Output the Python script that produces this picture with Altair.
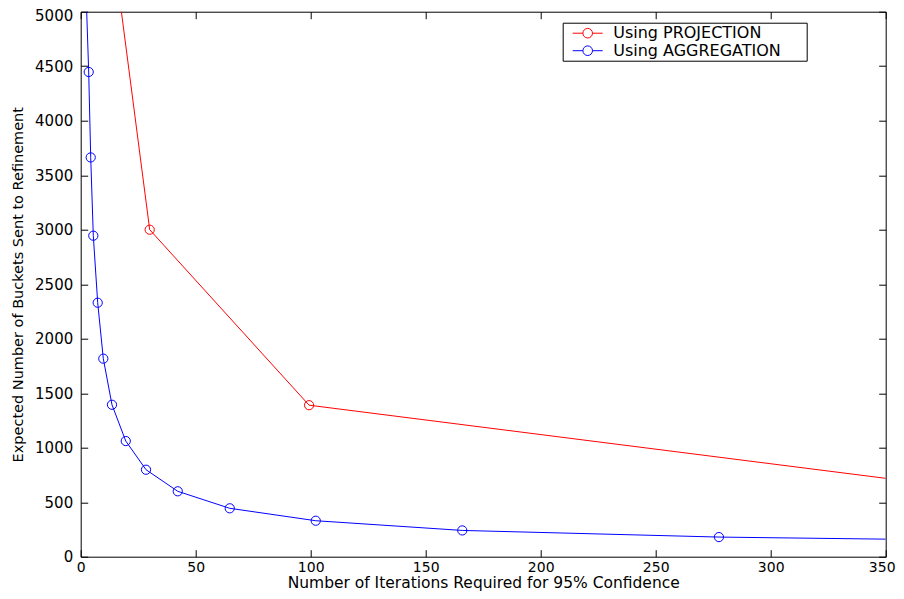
import altair as alt
import pandas as pd

series_names = ["Using PROJECTION", "Using AGGREGATION"]
series_colors = ["#ff0000", "#0000ff"]

# Using PROJECTION (first and last points run past the plot frame)
proj_x = [10, 30, 99.3, 350]
proj_y = [6250, 3000, 1390, 719]
proj_marker = [False, True, True, False]

# Using AGGREGATION
agg_x = [2.0, 3.48, 4.35, 5.48, 7.39, 9.83, 13.6, 19.6, 28.4, 42.2, 64.8, 102.2, 165.9, 277.5, 350]
agg_y = [5380, 4447, 3663, 2945, 2330, 1817, 1394, 1061, 798, 600, 444, 330, 241, 180, 161]
agg_marker = [False, True, True, True, True, True, True, True, True, True, True, True, True, True, False]

x_ticks = [0, 50, 100, 150, 200, 250, 300, 350]
y_ticks = [0, 500, 1000, 1500, 2000, 2500, 3000, 3500, 4000, 4500, 5000]

rows = []
for name, xs, ys, ms in [(series_names[0], proj_x, proj_y, proj_marker),
                         (series_names[1], agg_x, agg_y, agg_marker)]:
    for i, (xv, yv, mv) in enumerate(zip(xs, ys, ms)):
        rows.append({"series": name, "x": xv, "y": yv, "marker": mv, "order": i})
df = pd.DataFrame(rows)

W, H = 805, 545
FONT = "DejaVu Sans"
TICK = 7

xscale = alt.Scale(domain=[0, 350], nice=False, zero=False)
yscale = alt.Scale(domain=[0, 5000], nice=False, zero=False)
cscale = alt.Scale(domain=series_names, range=series_colors)

# line with an open circle in the middle (unit = 8 px for symbolSize 256)
legend_symbol = ("M-1.875,0L-0.6,0M0.6,0L1.875,0"
                 "M0.6,0A0.6,0.6 0 1 1 -0.6,0A0.6,0.6 0 1 1 0.6,0")

legend = alt.Legend(
    title=None, orient="none", legendX=482, legendY=11,
    strokeColor="black", fillColor="white", padding=2, rowPadding=0.5,
    symbolType=legend_symbol, symbolSize=256, symbolStrokeWidth=1,
    symbolFillColor="transparent", symbolOffset=14.5, labelOffset=17,
    labelFont=FONT, labelFontSize=16, labelColor="black", labelLimit=400,
    # trailing blank room inside the frame (zero-width char keeps it from being trimmed)
    labelExpr="datum.label + '\u00a0\u00a0\u00a0\u00a0\u2009\u200b'",
)


def tick_axis(orient, offset, values):
    return alt.Axis(orient=orient, offset=offset, values=values, labels=False,
                    tickSize=TICK, tickColor="black", tickWidth=1, domain=False,
                    grid=False, title=None)


lines = alt.Chart(df).mark_line(strokeWidth=1, clip=True).encode(
    x=alt.X("x:Q", scale=xscale, axis=alt.Axis(
        orient="bottom", values=x_ticks, format="d", tickSize=0, domain=False, grid=False,
        labelPadding=4, labelFont=FONT, labelFontSize=14, labelColor="black",
        labelFlush=False, labelOverlap=False,
        labelOffset={"condition": {"test": "datum.value == 350", "value": -4}, "value": 0},
        title="Number of Iterations Required for 95% Confidence",
        titleFont=FONT, titleFontSize=15.5, titleFontWeight="normal",
        titleColor="black", titleBaseline="alphabetic", titleY=30.8)),
    y=alt.Y("y:Q", scale=yscale, axis=alt.Axis(
        orient="left", values=y_ticks, format="d", tickSize=0, domain=False, grid=False,
        labelPadding=8, labelFont=FONT, labelFontSize=15, labelColor="black",
        labelFlush=False, labelOverlap=False,
        labelOffset={"condition": {"test": "datum.value == 5000", "value": 3.5}, "value": 0},
        title="Expected Number of Buckets Sent to Refinement",
        titleFont=FONT, titleFontSize=14.5, titleFontWeight="normal",
        titleColor="black", titleBaseline="alphabetic", titleAngle=-90,
        titleX=-58, titleY=H / 2)),
    color=alt.Color("series:N", scale=cscale, legend=legend),
    order=alt.Order("order:Q"),
)

red_pts = alt.Chart(df).transform_filter(
    (alt.datum.series == series_names[0]) & alt.datum.marker
).mark_point(shape="circle", size=85, strokeWidth=1, filled=False, opacity=1, clip=True).encode(
    x=alt.X("x:Q", scale=xscale, axis=tick_axis("top", -H, x_ticks)),
    y=alt.Y("y:Q", scale=yscale, axis=tick_axis("right", -W, y_ticks)),
    color=alt.Color("series:N", scale=cscale, legend=None),
)

blue_pts = alt.Chart(df).transform_filter(
    (alt.datum.series == series_names[1]) & alt.datum.marker
).mark_point(shape="circle", size=85, strokeWidth=1, filled=False, opacity=1, clip=True).encode(
    x=alt.X("x:Q", scale=xscale, axis=tick_axis("bottom", -H, x_ticks)),
    y=alt.Y("y:Q", scale=yscale, axis=tick_axis("left", -W, y_ticks)),
    color=alt.Color("series:N", scale=cscale, legend=None),
)

chart = alt.layer(lines, red_pts, blue_pts).resolve_axis(
    x="independent", y="independent"
).properties(
    width=W, height=H,
    autosize=alt.AutoSizeParams(type="none"),
    padding={"left": 72.7, "top": 3.7, "right": 10, "bottom": 34.3},
    background="white",
).configure_view(stroke="black", strokeWidth=1)

chart.save("out.html", embed_options={"renderer": "svg", "actions": False})
